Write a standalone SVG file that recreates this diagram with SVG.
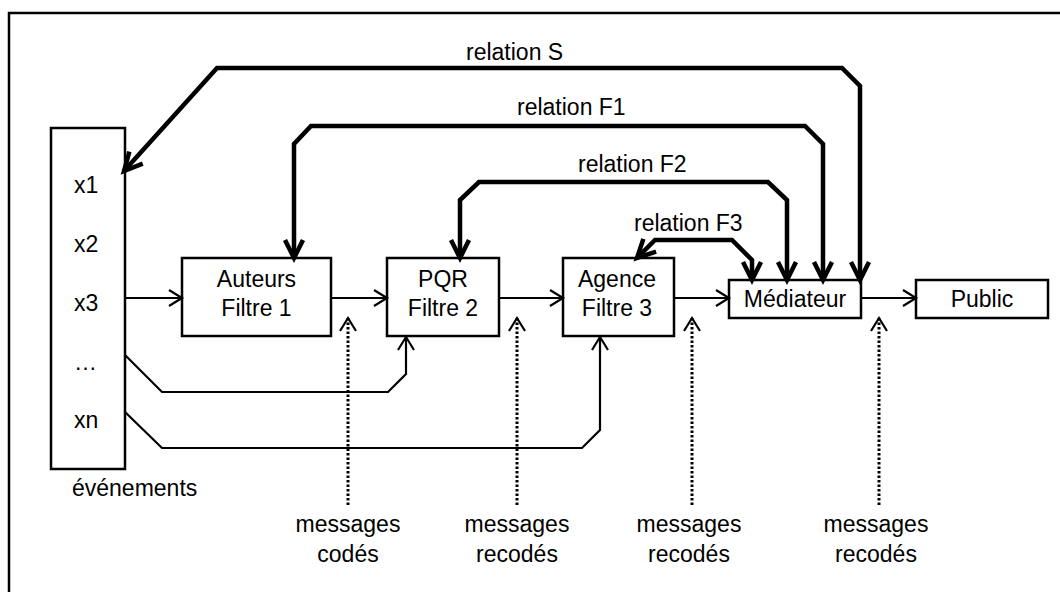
<svg xmlns="http://www.w3.org/2000/svg" width="1060" height="592" viewBox="0 0 1060 592">
  <style>
    text { font-family: "Liberation Sans", Arial, sans-serif; font-size: 23px; fill: #000; }
    .c { text-anchor: middle; }
    .box { fill: #fff; stroke: #000; stroke-width: 2.5; }
    .thin { fill: none; stroke: #000; stroke-width: 2.2; marker-end: url(#arr); }
    .thick { fill: none; stroke: #000; stroke-width: 4.5; stroke-linejoin: miter; marker-start: url(#arrB); marker-end: url(#arrB); }
    .dot { fill: none; stroke: #000; stroke-width: 3; stroke-dasharray: 2.5 2; marker-end: url(#arr); }
  </style>
  <defs>
    <marker id="arr" markerUnits="userSpaceOnUse" markerWidth="30" markerHeight="30" refX="0" refY="0" orient="auto" overflow="visible">
      <path d="M -13 -8 L 0 0 L -13 8" fill="none" stroke="#000" stroke-width="2.2" stroke-dasharray="none"/>
    </marker>
    <marker id="arrB" markerUnits="userSpaceOnUse" markerWidth="40" markerHeight="40" refX="0" refY="0" orient="auto-start-reverse" overflow="visible">
      <path d="M -18 -9 L 0 0 L -18 9" fill="none" stroke="#000" stroke-width="4.5" stroke-linejoin="miter"/>
    </marker>
  </defs>

  <rect x="9" y="13" width="1200" height="800" fill="none" stroke="#000" stroke-width="2.5"/>

  <g id="evenements">
    <rect class="box" x="51" y="128" width="74" height="341"/>
    <text x="74" y="193">x1</text>
    <text x="74" y="252">x2</text>
    <text x="74" y="311">x3</text>
    <text x="74" y="370">…</text>
    <text x="74" y="428">xn</text>
    <text x="72" y="496">événements</text>
  </g>

  <g id="auteurs">
    <rect class="box" x="182" y="258" width="149" height="78"/>
    <text class="c" x="256.5" y="287">Auteurs</text>
    <text class="c" x="256.5" y="316">Filtre 1</text>
  </g>

  <g id="pqr">
    <rect class="box" x="387" y="258" width="112" height="78"/>
    <text class="c" x="443" y="287">PQR</text>
    <text class="c" x="443" y="316">Filtre 2</text>
  </g>

  <g id="agence">
    <rect class="box" x="563" y="258" width="111" height="78"/>
    <text class="c" x="617" y="287">Agence</text>
    <text class="c" x="617" y="316">Filtre 3</text>
  </g>

  <g id="mediateur">
    <rect class="box" x="729" y="280" width="132" height="38"/>
    <text class="c" x="795" y="307">Médiateur</text>
  </g>

  <g id="public">
    <rect class="box" x="916" y="280" width="132" height="38"/>
    <text class="c" x="982" y="307">Public</text>
  </g>

  <g id="connectors">
    <path class="thin" d="M 125 298 L 182 298"/>
    <path class="thin" d="M 331 298 L 387 298"/>
    <path class="thin" d="M 499 298 L 563 298"/>
    <path class="thin" d="M 674 298 L 729 298"/>
    <path class="thin" d="M 861 298 L 916 298"/>
    <path class="thin" d="M 125 355 L 162 392 L 388 392 L 406 374 L 406 337"/>
    <path class="thin" d="M 125 412 L 162 448 L 582 448 L 600 430 L 600 337"/>

    <path class="thick" d="M 124 171 L 217 68 L 842 68 L 860 86 L 860 280"/>
    <path class="thick" d="M 294 258 L 294 144 L 311 126 L 805 126 L 823 144 L 823 280"/>
    <path class="thick" d="M 460 258 L 460 200 L 479 182 L 768 182 L 787 200 L 787 280"/>
    <path class="thick" d="M 637 258 L 655 240 L 732 240 L 752 260 L 752 280"/>

    <path class="dot" d="M 348 505 L 348 318"/>
    <path class="dot" d="M 517 505 L 517 318"/>
    <path class="dot" d="M 692 505 L 692 318"/>
    <path class="dot" d="M 879 505 L 879 318"/>
  </g>

  <g id="labels">
    <text x="466" y="60">relation S</text>
    <text x="517" y="115">relation F1</text>
    <text x="578" y="172">relation F2</text>
    <text x="634" y="231">relation F3</text>
    <text class="c" x="348" y="532">messages</text>
    <text class="c" x="348" y="562">codés</text>
    <text class="c" x="517" y="532">messages</text>
    <text class="c" x="517" y="562">recodés</text>
    <text class="c" x="689" y="532">messages</text>
    <text class="c" x="689" y="562">recodés</text>
    <text class="c" x="876" y="532">messages</text>
    <text class="c" x="876" y="562">recodés</text>
  </g>
</svg>
